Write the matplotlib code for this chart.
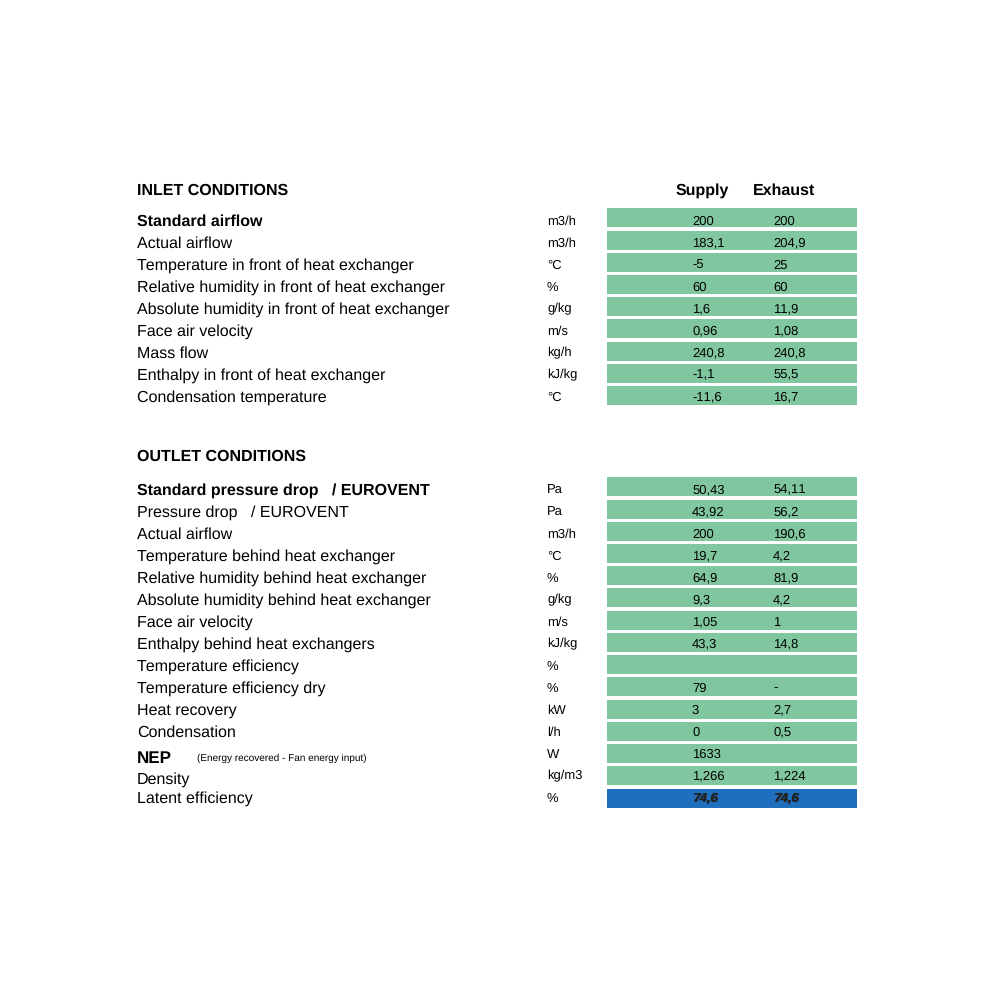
import matplotlib
matplotlib.use("Agg")
import matplotlib.pyplot as plt

plt.rcParams['font.family'] = ['Liberation Sans', 'DejaVu Sans']
plt.rcParams['text.hinting'] = 'no_hinting'
plt.rcParams['text.hinting_factor'] = 1

inlet_labels = ["Standard airflow", "Actual airflow", "Temperature in front of heat exchanger",
                "Relative humidity in front of heat exchanger", "Absolute humidity in front of heat exchanger",
                "Face air velocity", "Mass flow", "Enthalpy in front of heat exchanger",
                "Condensation temperature"]
inlet_units = ["m3/h", "m3/h", "°C", "%", "g/kg", "m/s", "kg/h", "kJ/kg", "°C"]
inlet_supply = ["200", "183,1", "-5", "60", "1,6", "0,96", "240,8", "-1,1", "-11,6"]
inlet_exhaust = ["200", "204,9", "25", "60", "11,9", "1,08", "240,8", "55,5", "16,7"]
inlet_bold = [True] + [False] * 8

outlet_labels = ["Standard pressure drop   / EUROVENT", "Pressure drop   / EUROVENT", "Actual airflow",
                 "Temperature behind heat exchanger", "Relative humidity behind heat exchanger",
                 "Absolute humidity behind heat exchanger", "Face air velocity",
                 "Enthalpy behind heat exchangers", "Temperature efficiency",
                 "Temperature efficiency dry", "Heat recovery", "Condensation", "NEP",
                 "Density", "Latent efficiency"]
outlet_units = ["Pa", "Pa", "m3/h", "°C", "%", "g/kg", "m/s", "kJ/kg", "%", "%", "kW", "l/h", "W",
                "kg/m3", "%"]
outlet_supply = ["50,43", "43,92", "200", "19,7", "64,9", "9,3", "1,05", "43,3", "", "79", "3", "0",
                 "1633", "1,266", "74,6"]
outlet_exhaust = ["54,11", "56,2", "190,6", "4,2", "81,9", "4,2", "1", "14,8", "", "-", "2,7", "0,5",
                  "", "1,224", "74,6"]
outlet_bold = [True] + [False] * 11 + [True, False, False]

headers = ["Supply", "Exhaust"]
nep_note = "(Energy recovered - Fan energy input)"

GREEN = "#80C79F"
BLUE = "#1F6FBF"

fig = plt.figure(figsize=(10, 10), dpi=100)
ax = fig.add_axes([0, 0, 1, 1])
ax.set_xlim(0, 1000)
ax.set_ylim(1000, 0)
ax.axis('off')

BAR_STEP = 22.23
TEXT_STEP = 22.0
BAR_H = 19
BAR_X0, BAR_X1 = 607, 857
LABEL_X, UNIT_X, SUP_X, EXH_X = 137, 547, 692, 773

def section(bar_top, text_center, labels, units, sup, exh, bold, blue_last=False,
            label_shift=None, label_size=None):
    label_shift = label_shift or {}
    label_size = label_size or {}
    n = len(labels)
    tops = [bar_top + i * BAR_STEP for i in range(n)]
    centers = [text_center + i * TEXT_STEP for i in range(n)]
    colors = [GREEN] * n
    if blue_last:
        colors[-1] = BLUE
    ax.barh([t + BAR_H / 2 for t in tops], [BAR_X1 - BAR_X0] * n, height=BAR_H,
            left=BAR_X0, color=colors, edgecolor='none')
    for i, c in enumerate(centers):
        ax.text(LABEL_X, c + 5.8 + label_shift.get(i, 0), labels[i], fontsize=label_size.get(i, 11.5),
                fontweight='bold' if bold[i] else 'normal', va='baseline', ha='left', color='black')
        ax.text(UNIT_X, c + 4.5, units[i], fontsize=9.2, va='baseline', ha='left', color='black')
        if blue_last and i == n - 1:
            for dx in (0, 1.0):
                ax.text(SUP_X + dx, c + 4.5, sup[i], fontsize=9.4, fontweight='bold', style='italic',
                        va='baseline', ha='left', color='#222222')
                ax.text(EXH_X + dx, c + 4.5, exh[i], fontsize=9.4, fontweight='bold', style='italic',
                        va='baseline', ha='left', color='#222222')
        else:
            ax.text(SUP_X, c + 4.5, sup[i], fontsize=9.3, va='baseline', ha='left', color='black')
            ax.text(EXH_X, c + 4.5, exh[i], fontsize=9.3, va='baseline', ha='left', color='black')
    return centers

ax.text(LABEL_X, 195, "INLET CONDITIONS", fontsize=11.5, fontweight='bold', va='baseline', ha='left')
ax.text(702, 194.5, headers[0], fontsize=11.5, fontweight='bold', va='baseline', ha='center')
ax.text(784, 194.5, headers[1], fontsize=11.5, fontweight='bold', va='baseline', ha='center')
section(208.3, 220, inlet_labels, inlet_units, inlet_supply, inlet_exhaust, inlet_bold)

ax.text(LABEL_X, 461, "OUTLET CONDITIONS", fontsize=11.5, fontweight='bold', va='baseline', ha='left')
centers = section(477.3, 489, outlet_labels, outlet_units, outlet_supply, outlet_exhaust, outlet_bold,
                  blue_last=True, label_shift={12: 4.5, 13: 3.2}, label_size={12: 12.3})
ax.text(197, centers[12] + 8.0, nep_note, fontsize=7.4, va='baseline', ha='left')

fig.savefig("out.png", dpi=100, facecolor='white')
